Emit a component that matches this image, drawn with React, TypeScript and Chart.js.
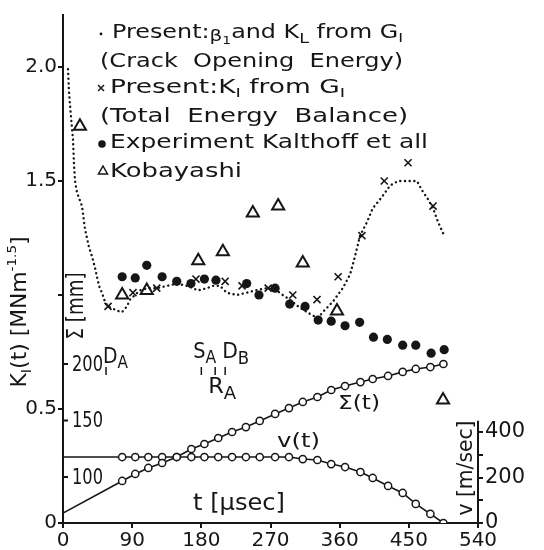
import React, { useEffect, useRef } from 'react';
import { Chart, registerables } from 'chart.js';

Chart.register(...registerables);

const FONT = '"DejaVu Sans", sans-serif';
const INK = '#161616';

// axis ticks
const tTicks = [0, 90, 180, 270, 360, 450, 540];
const kTicks = [0, 0.5, 1.0, 1.5, 2.0];
const kTickLabels = ['0', '0.5', '', '1.5', '2.0'];
const wTicks = [100, 150, 200];
const wTickLabels = ['100', '150', '200'];
const vTicks = [0, 100, 200, 300, 400];
const vTickLabels = ['0', '', '200', '', '400'];

// Present: beta1 and K_L from G_I (Crack Opening Energy) - dotted line
const openingT = [6.5, 7.8, 10.4, 13, 14.3, 15.6, 18.2, 24.7, 28.6, 33.8, 37.7, 41.6, 46.8, 50.7, 54.7, 58.6, 65, 71.6, 76.8, 83.3, 87.2, 93.7, 100, 110.6, 122.3, 135.3, 148.3, 161.4, 169, 175.7, 187.4, 195.2, 204.3, 213, 226, 239, 250, 265, 278, 286, 295, 306, 317.5, 325, 332, 338, 351, 364, 373.5, 380, 386.5, 395.6, 403, 415, 425.5, 436, 447.6, 460.6, 467, 475, 481.5, 488, 496];
const openingK = [1.99, 1.89, 1.78, 1.68, 1.57, 1.5, 1.45, 1.39, 1.29, 1.21, 1.17, 1.12, 1.04, 1.01, 0.97, 0.95, 0.94, 0.93, 0.925, 0.95, 0.98, 1.0, 1.02, 1.03, 1.03, 1.04, 1.05, 1.04, 1.03, 1.02, 1.03, 1.04, 1.04, 1.01, 1.0, 1.01, 1.02, 1.03, 1.02, 1.0, 0.98, 0.95, 0.925, 0.91, 0.9, 0.925, 0.97, 1.03, 1.09, 1.17, 1.26, 1.32, 1.38, 1.43, 1.48, 1.5, 1.5, 1.5, 1.46, 1.42, 1.38, 1.32, 1.26];

// Present: K_I from G_I (Total Energy Balance) - crosses
const balanceT = [58.6, 91, 122, 173, 211, 233, 267, 299, 330.5, 358, 389, 418, 449, 481.5];
const balanceK = [0.95, 1.01, 1.03, 1.07, 1.06, 1.04, 1.03, 1.0, 0.98, 1.08, 1.26, 1.5, 1.58, 1.39];

// Experiment Kalthoff et all - filled circles
const kalthoffT = [77, 94, 109, 129, 148, 166.5, 184, 199, 239, 255, 276, 295, 315, 332, 349, 367, 386, 404, 422, 442, 459, 479, 496];
const kalthoffK = [1.08, 1.075, 1.13, 1.08, 1.06, 1.05, 1.07, 1.065, 1.05, 1.0, 1.03, 0.96, 0.95, 0.89, 0.885, 0.865, 0.88, 0.815, 0.805, 0.78, 0.78, 0.745, 0.76];

// Kobayashi - open triangles
const kobayashiT = [22, 77, 109, 176, 208, 247, 280, 312, 356.5, 494.5];
const kobayashiK = [1.74, 1.0, 1.02, 1.15, 1.19, 1.36, 1.39, 1.14, 0.93, 0.54];

// crack length Σ(t) [mm] and velocity v(t) [m/sec]
const motionT = [0, 77, 94, 111, 129, 148, 167, 184, 202, 220, 238, 256, 276, 294, 312, 331, 349, 367, 387, 403, 423, 442, 459, 478, 495];
const lengthW = [68, 96.5, 102.7, 108, 112.4, 117.7, 124.8, 129.2, 134.5, 139.8, 144.2, 149.6, 155.8, 161, 166.4, 170.8, 177, 180.5, 184, 186.7, 189.4, 193, 195.6, 197.3, 200];
const velocityV = [290, 290, 290, 290, 290, 290, 290, 290, 290, 290, 290, 290, 290, 290, 281, 277, 259, 246, 224, 198, 163, 132, 84, 40, 0];

// event marks on the time axis
const eventT = [56, 180, 198, 211];

type Seg = { s: string; size?: number; dy?: number };

function drawRich(
  ctx: CanvasRenderingContext2D,
  segs: Seg[],
  x: number,
  y: number,
  base: number,
  opts: { width?: number; rotate?: number; align?: 'left' | 'center' } = {}
) {
  ctx.save();
  ctx.translate(x, y);
  if (opts.rotate) ctx.rotate(opts.rotate);
  let total = 0;
  const widths = segs.map((sg) => {
    ctx.font = `${sg.size ?? base}px ${FONT}`;
    const w = ctx.measureText(sg.s).width;
    total += w;
    return w;
  });
  const sx = opts.width ? opts.width / total : 1;
  ctx.scale(sx, 1);
  let cx = opts.align === 'center' ? -total / 2 : 0;
  ctx.textBaseline = 'middle';
  ctx.textAlign = 'left';
  ctx.fillStyle = INK;
  segs.forEach((sg, i) => {
    ctx.font = `${sg.size ?? base}px ${FONT}`;
    ctx.fillText(sg.s, cx, sg.dy ?? 0);
    cx += widths[i];
  });
  ctx.restore();
}

export default function App() {
  const ref = useRef<HTMLCanvasElement>(null);

  useEffect(() => {
    const canvas = ref.current;
    if (!canvas) return;
    const pts = (xs: number[], ys: number[]) => xs.map((x, i) => ({ x, y: ys[i] }));

    const overlay = {
      id: 'overlay',
      afterDraw(chart: any) {
        const ctx: CanvasRenderingContext2D = chart.ctx;
        const area = chart.chartArea;
        const sx = chart.scales.x;
        const sW = chart.scales.yW;
        const sV = chart.scales.yV;
        ctx.save();
        ctx.strokeStyle = INK;
        ctx.fillStyle = INK;
        ctx.lineWidth = 2;

        // short right axis for v
        ctx.beginPath();
        ctx.moveTo(area.right, sV.getPixelForValue(0) + 1);
        ctx.lineTo(area.right, sV.getPixelForValue(450));
        ctx.stroke();

        // inner Σ axis ticks + labels
        wTicks.forEach((w, i) => {
          const py = sW.getPixelForValue(w);
          ctx.beginPath();
          ctx.moveTo(area.left, py);
          ctx.lineTo(area.left + 5, py);
          ctx.stroke();
          drawRich(ctx, [{ s: wTickLabels[i] }], area.left + 9, py + 1, 22, { width: 31 });
        });

        // event marks
        ctx.lineWidth = 1.5;
        eventT.forEach((t) => {
          const px = sx.getPixelForValue(t);
          ctx.beginPath();
          ctx.moveTo(px, 367);
          ctx.lineTo(px, 375);
          ctx.stroke();
        });
        const e0 = sx.getPixelForValue(eventT[0]);
        drawRich(ctx, [{ s: 'D' }, { s: 'A', size: 17, dy: 6 }], e0 - 3, 358, 21, { width: 25 });
        const e1 = sx.getPixelForValue(eventT[1]);
        drawRich(ctx, [{ s: 'S' }, { s: 'A', size: 17, dy: 6 }], e1 - 8, 353, 21, { width: 23 });
        const e2 = sx.getPixelForValue(eventT[2]);
        drawRich(ctx, [{ s: 'R' }, { s: 'A', size: 17, dy: 7 }], e2 - 7, 388, 21, { width: 28 });
        const e3 = sx.getPixelForValue(eventT[3]);
        drawRich(ctx, [{ s: 'D' }, { s: 'B', size: 17, dy: 7 }], e3 - 3, 353, 21, { width: 27 });

        // legend
        ctx.beginPath();
        ctx.arc(101, 34, 1.4, 0, Math.PI * 2);
        ctx.fill();
        drawRich(
          ctx,
          [
            { s: 'Present:' },
            { s: 'β', size: 16, dy: 4 },
            { s: '1', size: 11, dy: 8 },
            { s: 'and K' },
            { s: 'L', size: 14, dy: 6 },
            { s: ' from G' },
            { s: 'I', size: 13, dy: 6 },
          ],
          112, 33, 19, { width: 291 }
        );
        drawRich(ctx, [{ s: '(Crack  Opening  Energy)' }], 100, 62, 19, { width: 303 });
        ctx.lineWidth = 1.5;
        ctx.beginPath();
        ctx.moveTo(98, 85); ctx.lineTo(104, 91);
        ctx.moveTo(104, 85); ctx.lineTo(98, 91);
        ctx.stroke();
        drawRich(
          ctx,
          [{ s: 'Present:K' }, { s: 'I', size: 13, dy: 6 }, { s: ' from G' }, { s: 'I', size: 13, dy: 6 }],
          110, 88, 19, { width: 235 }
        );
        drawRich(ctx, [{ s: '(Total  Energy  Balance)' }], 100, 117, 19, { width: 308 });
        ctx.beginPath();
        ctx.arc(102, 144, 3.8, 0, Math.PI * 2);
        ctx.fill();
        drawRich(ctx, [{ s: 'Experiment Kalthoff et all' }], 110, 143, 19, { width: 318 });
        ctx.lineWidth = 1.5;
        ctx.beginPath();
        ctx.moveTo(103, 166); ctx.lineTo(107.5, 174); ctx.lineTo(98.5, 174); ctx.closePath();
        ctx.stroke();
        drawRich(ctx, [{ s: 'Kobayashi' }], 110, 172, 19, { width: 132 });

        // curve labels and axis titles
        drawRich(ctx, [{ s: 'Σ(t)' }], 338, 404, 20, { width: 42 });
        drawRich(ctx, [{ s: 'v(t)' }], 277, 442, 20, { width: 43 });
        drawRich(ctx, [{ s: 't [µsec]' }], 193, 504, 23, { width: 92 });
        drawRich(ctx, [{ s: 'v [m/sec]' }], 466, 468, 22, { width: 95, rotate: -Math.PI / 2, align: 'center' });
        drawRich(ctx, [{ s: 'Σ [mm]' }], 77, 306, 23, { width: 67, rotate: -Math.PI / 2, align: 'center' });
        drawRich(
          ctx,
          [
            { s: 'K' },
            { s: 'I', size: 14, dy: 6 },
            { s: '(t) [MNm' },
            { s: '-1.5', size: 13, dy: -8 },
            { s: ']' },
          ],
          21, 312, 21, { width: 151, rotate: -Math.PI / 2, align: 'center' }
        );
        ctx.restore();
      },
    };

    const chart = new Chart(canvas, {
      type: 'scatter',
      data: {
        datasets: [
          {
            label: 'opening',
            data: pts(openingT, openingK),
            yAxisID: 'y',
            showLine: true,
            borderColor: INK,
            borderWidth: 2.4,
            borderDash: [0.1, 4.6],
            borderCapStyle: 'round',
            pointRadius: 0,
            tension: 0,
          },
          {
            label: 'balance',
            data: pts(balanceT, balanceK),
            yAxisID: 'y',
            pointStyle: 'crossRot',
            pointRadius: 5,
            borderColor: INK,
            pointBorderWidth: 1.6,
          },
          {
            label: 'kalthoff',
            data: pts(kalthoffT, kalthoffK),
            yAxisID: 'y',
            pointStyle: 'circle',
            pointRadius: 4.6,
            backgroundColor: INK,
            borderColor: INK,
            pointBorderWidth: 0,
          },
          {
            label: 'kobayashi',
            data: pts(kobayashiT, kobayashiK),
            yAxisID: 'y',
            pointStyle: 'triangle',
            pointRadius: 7,
            backgroundColor: '#fff',
            borderColor: INK,
            pointBorderWidth: 2,
          },
          {
            label: 'length',
            data: pts(motionT, lengthW),
            yAxisID: 'yW',
            showLine: true,
            borderColor: INK,
            borderWidth: 1.6,
            pointRadius: motionT.map((t) => (t === 0 ? 0 : 3.6)),
            pointBackgroundColor: '#fff',
            pointBorderColor: INK,
            pointBorderWidth: 1.5,
            tension: 0,
          },
          {
            label: 'velocity',
            data: pts(motionT, velocityV),
            yAxisID: 'yV',
            showLine: true,
            borderColor: INK,
            borderWidth: 1.6,
            pointRadius: motionT.map((t) => (t === 0 ? 0 : 3.6)),
            pointBackgroundColor: '#fff',
            pointBorderColor: INK,
            pointBorderWidth: 1.5,
            tension: 0,
          },
        ],
      },
      options: {
        responsive: false,
        animation: false,
        events: [],
        layout: { padding: { top: 15, left: 0, right: 0, bottom: 0 } },
        plugins: { legend: { display: false }, tooltip: { enabled: false } },
        scales: {
          x: {
            type: 'linear',
            position: 'bottom',
            min: 0,
            max: 540,
            afterBuildTicks: (s: any) => {
              s.ticks = tTicks.map((value) => ({ value }));
            },
            afterFit: (s: any) => {
              s.height = 27;
            },
            ticks: {
              font: { family: FONT, size: 20 },
              color: INK,
              padding: 1,
              maxRotation: 0,
              autoSkip: false,
              callback: (v: any) => String(v),
            },
            grid: { drawOnChartArea: false, tickLength: 5, color: INK, lineWidth: 2 },
            border: { color: INK, width: 2 },
          },
          y: {
            type: 'linear',
            position: 'left',
            min: 0,
            max: 2.228,
            afterBuildTicks: (s: any) => {
              s.ticks = kTicks.map((value) => ({ value }));
            },
            afterFit: (s: any) => {
              s.width = 63;
            },
            ticks: {
              font: { family: FONT, size: 20 },
              color: INK,
              padding: 1,
              autoSkip: false,
              callback: (v: any) => kTickLabels[kTicks.indexOf(Number(v))] ?? '',
            },
            grid: { drawOnChartArea: false, tickLength: 5, color: INK, lineWidth: 2 },
            border: { color: INK, width: 2 },
          },
          yW: {
            type: 'linear',
            display: false,
            min: 59.3,
            max: 508.8,
          },
          yV: {
            type: 'linear',
            position: 'right',
            min: 0,
            max: 2233,
            afterBuildTicks: (s: any) => {
              s.ticks = vTicks.map((value) => ({ value }));
            },
            afterFit: (s: any) => {
              s.width = 66;
            },
            ticks: {
              font: { family: FONT, size: 21 },
              color: INK,
              padding: 2,
              autoSkip: false,
              callback: (v: any) => vTickLabels[vTicks.indexOf(Number(v))] ?? '',
            },
            grid: { drawOnChartArea: false, tickLength: 5, color: INK, lineWidth: 2 },
            border: { display: false },
          },
        },
      },
      plugins: [overlay],
    } as any);

    return () => chart.destroy();
  }, []);

  return (
    <div style={{ position: 'fixed', left: 0, top: 0, width: 544, height: 550, background: '#fff' }}>
      <canvas ref={ref} width={544} height={550} style={{ display: 'block', width: 544, height: 550 }} />
    </div>
  );
}
